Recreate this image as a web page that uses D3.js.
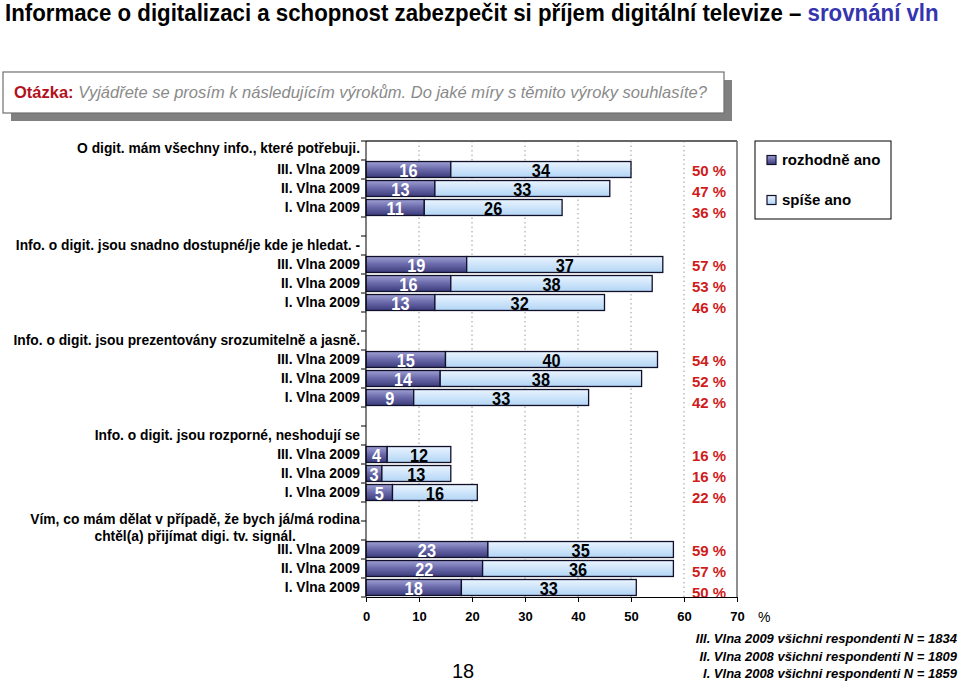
<!DOCTYPE html>
<html><head><meta charset="utf-8">
<script src="https://cdn.jsdelivr.net/npm/d3@7/dist/d3.min.js"></script>
<style>
body{margin:0;background:#fff}
svg{display:block;font-family:"Liberation Sans",Arial,Helvetica,sans-serif}
</style>
</head><body>
<svg id="chart" width="960" height="682"></svg>
<script>
// ---------- data ----------
const titleMain = "Informace o digitalizaci a schopnost zabezpečit si příjem digitální televize – ";
const titleAccent = "srovnání vln";
const questionLabel = "Otázka:";
const questionText = "Vyjádřete se prosím k následujícím výrokům. Do jaké míry s těmito výroky souhlasíte?";
const statements = [
  "O digit. mám všechny info., které potřebuji.",
  "Info. o digit. jsou snadno dostupné/je kde je hledat. -",
  "Info. o digit. jsou prezentovány srozumitelně a jasně.",
  "Info. o digit. jsou rozporné, neshodují se",
  "Vím, co mám dělat v případě, že bych já/má rodina\nchtěl(a) přijímat digi. tv. signál."
];
const waves = ["III. Vlna 2009", "II. Vlna 2009", "I. Vlna 2009"];
const seriesNames = ["rozhodně ano", "spíše ano"];
const rozhodneAno = [[16, 13, 11], [19, 16, 13], [15, 14, 9], [4, 3, 5], [23, 22, 18]];
const spiseAno    = [[34, 33, 26], [37, 38, 32], [40, 38, 33], [12, 13, 16], [35, 36, 33]];
const totals      = [[50, 47, 36], [57, 53, 46], [54, 52, 42], [16, 16, 22], [59, 57, 50]];
const xTicks = [0, 10, 20, 30, 40, 50, 60, 70];
const xUnit = "%";
const footnotes = [
  "III. Vlna 2009 všichni respondenti N = 1834",
  "II. Vlna 2008 všichni respondenti N = 1809",
  "I. Vlna 2008 všichni respondenti N = 1859"
];
const pageNumber = "18";

// ---------- layout ----------
const svg = d3.select("#chart");
const plot = {left: 366, right: 737, top: 141, bottom: 597};
const labelEnd = 360;
const labelFont = 13.8;
// vertical shift of each statement line relative to its row centre
const headerShift = [[-2.5], [0], [0], [0], [-11.5, 5.5]];

function fitText(sel, x0, yBase, w) {
  const nat = sel.node().getComputedTextLength();
  sel.attr("x", 0).attr("y", 0).attr("transform", `translate(${x0},${yBase}) scale(${w / nat},1)`);
}

// rows: header, 3 waves, blank (no blank after last group)
const rows = [];
statements.forEach((s, g) => {
  rows.push({type: "header", g});
  waves.forEach((w, i) => rows.push({type: "bar", g, i}));
  if (g < statements.length - 1) rows.push({type: "blank", g});
});

const x = d3.scaleLinear().domain([0, 70]).range([plot.left, plot.right]);
const y = d3.scaleBand().domain(d3.range(rows.length)).range([plot.top, plot.bottom]);
const barH = y.bandwidth() * 0.84;

// gradients
const defs = svg.append("defs");
const g1 = defs.append("linearGradient").attr("id", "gDark").attr("x1", 0).attr("y1", 0).attr("x2", 0).attr("y2", 1);
g1.append("stop").attr("offset", "0%").attr("stop-color", "#a0a0d4");
g1.append("stop").attr("offset", "45%").attr("stop-color", "#6d6dae");
g1.append("stop").attr("offset", "100%").attr("stop-color", "#3c3c7c");
const g2 = defs.append("linearGradient").attr("id", "gLight").attr("x1", 0).attr("y1", 0).attr("x2", 0).attr("y2", 1);
g2.append("stop").attr("offset", "0%").attr("stop-color", "#eaf4ff");
g2.append("stop").attr("offset", "100%").attr("stop-color", "#b2d5f5");

// ---------- title ----------
const title = svg.append("text").attr("font-size", 23).attr("font-weight", "bold").attr("fill", "#000");
title.append("tspan").text(titleMain);
title.append("tspan").attr("fill", "#3535b0").text(titleAccent);
fitText(title, 5, 21, 934);

// ---------- question box ----------
svg.append("rect").attr("x", 11).attr("y", 80).attr("width", 721).attr("height", 41).attr("fill", "#808080");
svg.append("rect").attr("x", 3).attr("y", 72).attr("width", 721).attr("height", 41)
  .attr("fill", "#fff").attr("stroke", "#707070").attr("stroke-width", 1.2);
const q = svg.append("text").attr("x", 14).attr("y", 98).attr("font-size", 16.5);
q.append("tspan").attr("font-weight", "bold").attr("fill", "#b3111d").text(questionLabel);
q.append("tspan").attr("font-style", "italic").attr("fill", "#8a8a8a").text(" " + questionText);

// ---------- grid ----------
svg.append("g").selectAll("line").data(xTicks.filter(t => t > 0 && t < 70)).join("line")
  .attr("x1", d => x(d)).attr("x2", d => x(d)).attr("y1", plot.top).attr("y2", plot.bottom)
  .attr("stroke", "#9a9a9a").attr("stroke-width", 1).attr("stroke-dasharray", "1.5,3");
svg.append("line").attr("x1", plot.right).attr("x2", plot.right).attr("y1", plot.top).attr("y2", plot.bottom)
  .attr("stroke", "#6a6a6a").attr("stroke-width", 1.5);
svg.append("line").attr("x1", plot.left).attr("x2", plot.right).attr("y1", plot.top).attr("y2", plot.top)
  .attr("stroke", "#666").attr("stroke-width", 2.2);

// ---------- bars ----------
const barRows = rows.map((r, k) => ({...r, k})).filter(r => r.type === "bar");
const bars = svg.append("g");
function valueLabel(cx, cy, v, color) {
  const t = bars.append("text").attr("font-size", 19).attr("font-weight", "bold").attr("fill", color).text(v);
  const w = t.node().getComputedTextLength();
  const s = 0.86;
  t.attr("transform", `translate(${cx - w * s / 2},${cy + 7}) scale(${s},1)`);
}
barRows.forEach(r => {
  const a = rozhodneAno[r.g][r.i], b = spiseAno[r.g][r.i];
  const yc = y(r.k) + y.bandwidth() / 2;
  bars.append("rect").attr("x", x(0)).attr("y", yc - barH / 2).attr("width", x(a) - x(0)).attr("height", barH)
    .attr("fill", "url(#gDark)").attr("stroke", "#10102a").attr("stroke-width", 1.3);
  bars.append("rect").attr("x", x(a)).attr("y", yc - barH / 2).attr("width", x(a + b) - x(a)).attr("height", barH)
    .attr("fill", "url(#gLight)").attr("stroke", "#10102a").attr("stroke-width", 1.3);
  valueLabel((x(0) + x(a)) / 2, yc, a, "#fff");
  valueLabel((x(a) + x(a + b)) / 2, yc, b, "#000");
  const topRow = barRows.find(o => o.g === r.g && o.i === 0);
  const y0 = y(topRow.k) + y.bandwidth() / 2;
  svg.append("text").attr("x", 692).attr("y", y0 + r.i * 21 + 1).attr("dy", "0.36em")
    .attr("font-size", 15).attr("font-weight", "bold").attr("fill", "#d01b1b").text(totals[r.g][r.i] + " %");
});

// ---------- left axis ----------
svg.append("line").attr("x1", plot.left).attr("x2", plot.left).attr("y1", plot.top).attr("y2", plot.bottom)
  .attr("stroke", "#000").attr("stroke-width", 1);
svg.append("g").selectAll("line").data(d3.range(rows.length + 1)).join("line")
  .attr("x1", plot.left - 5).attr("x2", plot.left)
  .attr("y1", d => plot.top + d * y.step()).attr("y2", d => plot.top + d * y.step())
  .attr("stroke", "#000");

const labels = svg.append("g").attr("font-size", labelFont).attr("font-weight", "bold").attr("fill", "#000");
rows.forEach((r, k) => {
  const yc = y(k) + y.bandwidth() / 2;
  if (r.type === "bar") {
    labels.append("text").attr("x", labelEnd).attr("y", yc).attr("dy", "0.35em")
      .attr("text-anchor", "end").text(waves[r.i]);
  } else if (r.type === "header") {
    const lines = statements[r.g].split("\n");
    const t1 = labels.append("text").attr("x", labelEnd).attr("y", yc + headerShift[r.g][0]).attr("dy", "0.35em")
      .attr("text-anchor", "end").text(lines[0]);
    if (lines.length > 1) {
      const w1 = t1.node().getComputedTextLength();
      labels.append("text").attr("x", labelEnd - w1 / 2).attr("y", yc + headerShift[r.g][1]).attr("dy", "0.35em")
        .attr("text-anchor", "middle").text(lines[1]);
    }
  }
});

// ---------- bottom axis ----------
const ax = svg.append("g").attr("transform", `translate(0,${plot.bottom})`)
  .call(d3.axisBottom(x).tickValues(xTicks).tickSize(5).tickSizeOuter(0).tickPadding(9.5));
ax.select(".domain").attr("stroke", "#000");
ax.selectAll(".tick line").attr("stroke", "#000");
ax.selectAll("text").attr("font-size", 13).attr("font-weight", "bold").attr("fill", "#000")
  .attr("font-family", "Liberation Sans, Arial, sans-serif");
svg.append("text").attr("x", 758).attr("y", 622).attr("font-size", 14).attr("fill", "#000").text(xUnit);

// ---------- legend ----------
svg.append("rect").attr("x", 755).attr("y", 141).attr("width", 136).attr("height", 78)
  .attr("fill", "#fff").attr("stroke", "#000").attr("stroke-width", 1);
seriesNames.forEach((n, i) => {
  const ly = 160 + i * 40;
  svg.append("rect").attr("x", 767).attr("y", ly - 4.5).attr("width", 9).attr("height", 9)
    .attr("fill", i === 0 ? "url(#gDark)" : "url(#gLight)").attr("stroke", "#10102a").attr("stroke-width", 1.2);
  svg.append("text").attr("x", 782).attr("y", ly).attr("dy", "0.35em").attr("font-size", 15)
    .attr("font-weight", "bold").attr("fill", "#000").text(n);
});

// ---------- footer ----------
svg.append("text").attr("x", 463).attr("y", 678).attr("text-anchor", "middle").attr("font-size", 20)
  .attr("fill", "#000").text(pageNumber);
footnotes.forEach((f, i) => {
  svg.append("text").attr("x", 957).attr("y", 643 + i * 17.5).attr("text-anchor", "end")
    .attr("font-size", 13).attr("font-weight", "bold").attr("font-style", "italic").attr("fill", "#000").text(f);
});
</script>
</body></html>
